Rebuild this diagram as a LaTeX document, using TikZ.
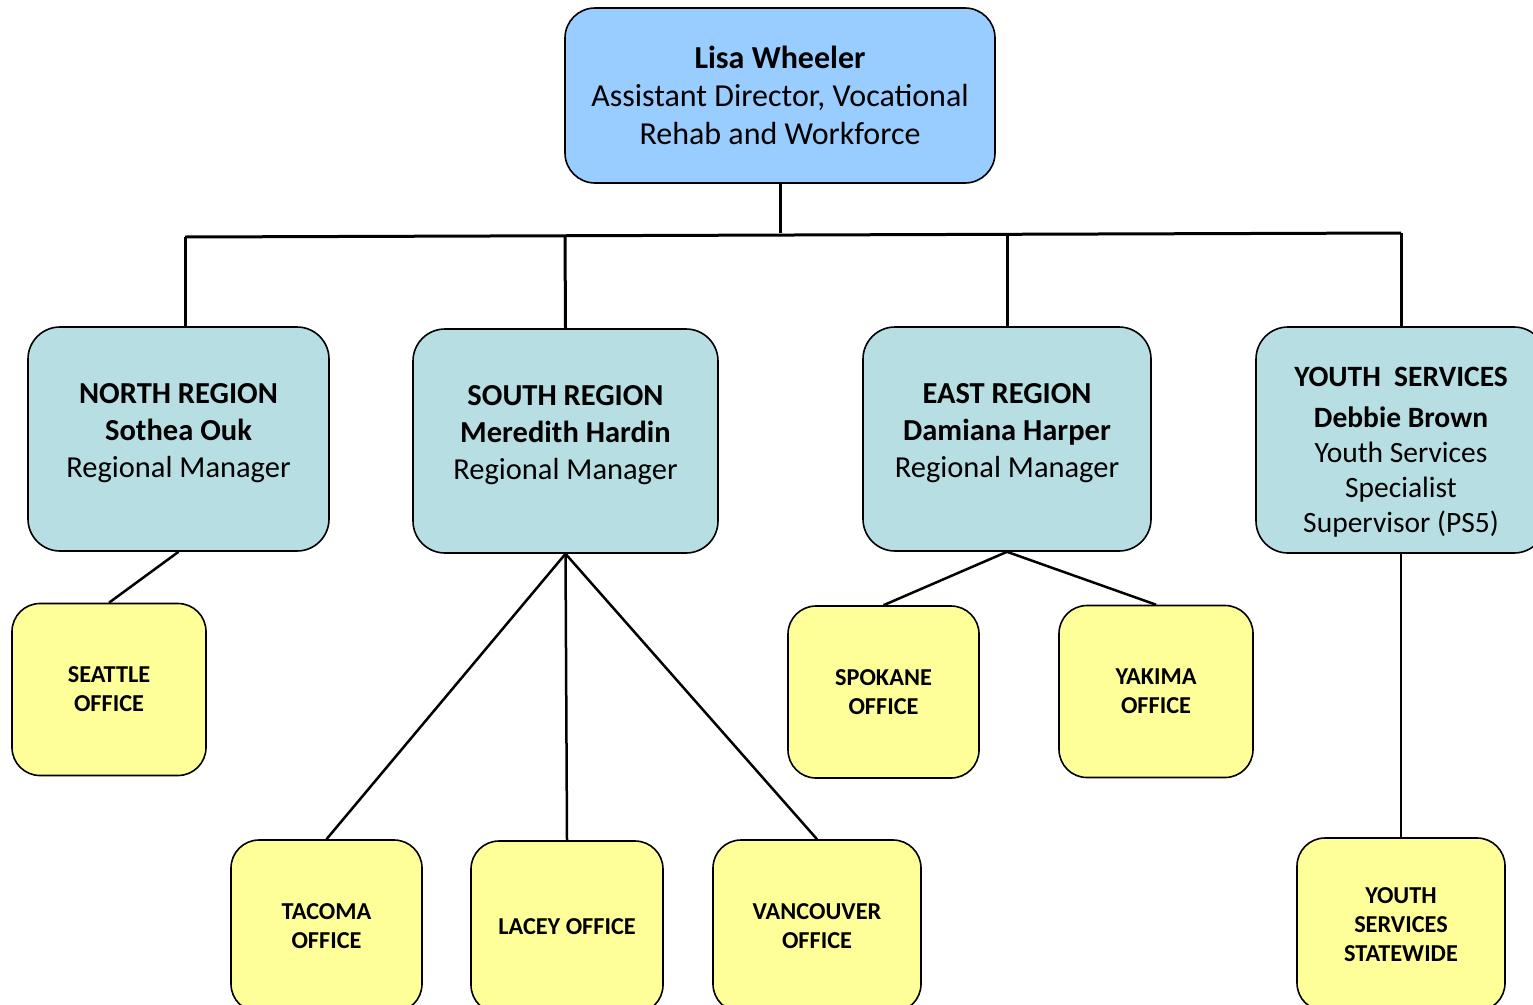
\documentclass[tikz,border=0pt]{standalone}
\usepackage{fontspec}
\setmainfont{Carlito}
\definecolor{headblue}{HTML}{99CCFF}
\definecolor{regionteal}{HTML}{B7DEE3}
\definecolor{officeyellow}{HTML}{FFFF99}
\begin{document}
\begin{tikzpicture}[x=1pt,y=-1pt,
    headbox/.style={draw,line width=1.6pt,rounded corners=30pt,fill=headblue,minimum width=430pt,minimum height=175pt},
    regionbox/.style={draw,line width=1.6pt,rounded corners=32pt,fill=regionteal,minimum height=224pt},
    officebox/.style={draw,line width=1.6pt,rounded corners=28pt,fill=officeyellow,minimum height=172pt,align=center,font=\fontsize{24.3}{29}\selectfont\bfseries},
    boxtext/.style={align=center,inner sep=0pt,font=\fontsize{30.5}{37}\selectfont},
    link/.style={line width=2.5pt},
    bus/.style={line width=3pt}]
    \useasboundingbox (0,0) rectangle (1533,1004);

    % top
    \node[headbox] (lisa) at (780,95.5) {};
    \node[boxtext,font=\fontsize{32}{38}\selectfont] (lisatxt) at (lisa.center) {\textbf{Lisa Wheeler}\\Assistant Director, Vocational\\Rehab and Workforce};

    % regions
    \node[regionbox,minimum width=301pt] (north) at (178.5,439) {};
    \node[boxtext] (northtxt) at ([yshift=6pt]north.center) {\textbf{NORTH REGION}\\\textbf{Sothea Ouk}\\Regional Manager};
    \node[regionbox,minimum width=305pt] (south) at (565.5,441) {};
    \node[boxtext] (southtxt) at ([yshift=6pt]south.center) {\textbf{SOUTH REGION}\\\textbf{Meredith Hardin}\\Regional Manager};
    \node[regionbox,minimum width=288pt] (east) at (1007,439) {};
    \node[boxtext] (easttxt) at ([yshift=6pt]east.center) {\textbf{EAST REGION}\\\textbf{Damiana Harper}\\Regional Manager};
    \node[regionbox,minimum width=290pt,minimum height=226pt] (youth) at (1401,440) {};
    \node[boxtext,font=\fontsize{29.5}{35}\selectfont] (youthtxt) at ([yshift=-12pt]youth.center) {\textbf{YOUTH\ \ SERVICES}\\[6pt]\textbf{Debbie Brown}\\Youth Services\\Specialist\\Supervisor (PS5)};

    % offices
    \node[officebox,minimum width=194pt] (seattle) at (109,689.5) {SEATTLE\\OFFICE};
    \node[officebox,minimum width=191pt] (tacoma) at (326.5,926) {TACOMA\\OFFICE};
    \node[officebox,minimum width=192pt] (lacey) at (567,927) {LACEY OFFICE};
    \node[officebox,minimum width=208pt] (vancouver) at (817,926) {VANCOUVER\\OFFICE};
    \node[officebox,minimum width=191pt] (spokane) at (883.5,692) {SPOKANE\\OFFICE};
    \node[officebox,minimum width=194pt] (yakima) at (1156,691.5) {YAKIMA\\OFFICE};
    \node[officebox,minimum width=208pt,minimum height=173pt] (statewide) at (1401,924.5) {YOUTH\\SERVICES\\STATEWIDE};

    % bus
    \coordinate (busL) at (185,237);
    \coordinate (busR) at (1401,233);
    \draw[bus] (lisa.south) -- (780,233);
    \draw[bus] (busL) -- (busR);
    \draw[bus] (busL) -- (busL |- north.north);
    \draw[bus] (565,236) -- (south.north);
    \draw[bus] (1007,234) -- (east.north);
    \draw[bus] (busR) -- (youth.north);

    % links to offices
    \draw[link] (north.south) -- (seattle.north);
    \draw[link] (south.south) -- (tacoma.north);
    \draw[link] (south.south) -- (lacey.north);
    \draw[link] (south.south) -- (vancouver.north);
    \draw[link] (east.south) -- (spokane.north);
    \draw[link] (east.south) -- (yakima.north);
    \draw[link] (youth.south) -- (statewide.north);
\end{tikzpicture}
\end{document}
